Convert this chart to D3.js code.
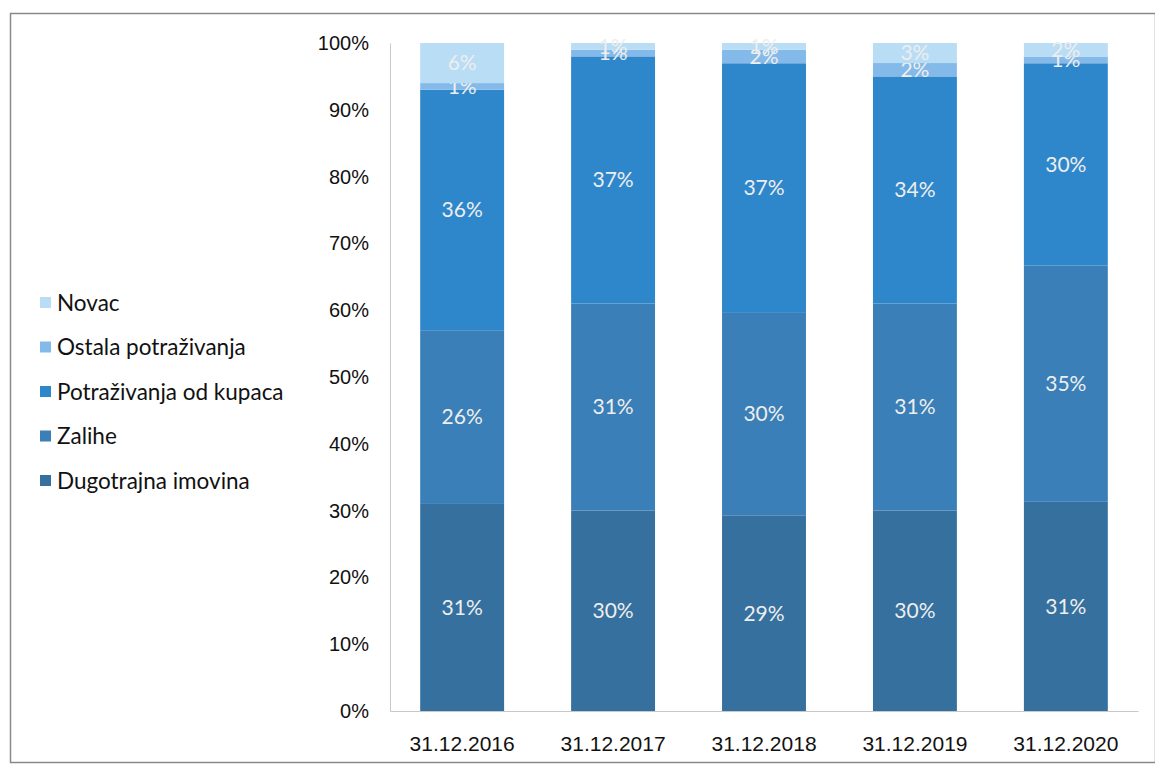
<!DOCTYPE html>
<html>
<head>
<meta charset="utf-8">
<script src="https://cdn.jsdelivr.net/npm/d3@7"></script>
<style>
    body { margin: 0; background: #fff; }
    svg { font-family: Lato, "Noto Sans", sans-serif; }
</style>
</head>
<body>
<div id="chart"></div>
<script>
// data (percent of total assets)
var dates = ["31.12.2016", "31.12.2017", "31.12.2018", "31.12.2019", "31.12.2020"];
var series = ["Dugotrajna imovina", "Zalihe", "Potraživanja od kupaca", "Ostala potraživanja", "Novac"];
var dugotrajna = [31, 30, 29, 30, 31];
var zalihe = [26, 31, 30, 31, 35];
var potrazivanjaKupci = [36, 37, 37, 34, 30];
var ostalaPotrazivanja = [1, 1, 2, 2, 1];
var novac = [6, 1, 1, 3, 2];
var yTicks = [0, 0.1, 0.2, 0.3, 0.4, 0.5, 0.6, 0.7, 0.8, 0.9, 1];

var colors = ["#35709e", "#3a7fb7", "#2f87cb", "#84baea", "#b8ddf5"];

var width = 1155, height = 767;
var margin = { top: 43, right: 17, bottom: 56, left: 390 };

var rows = dates.map(function (d, i) {
    return {
        date: d,
        "Dugotrajna imovina": dugotrajna[i],
        "Zalihe": zalihe[i],
        "Potraživanja od kupaca": potrazivanjaKupci[i],
        "Ostala potraživanja": ostalaPotrazivanja[i],
        "Novac": novac[i]
    };
});

var stacked = d3.stack().keys(series).offset(d3.stackOffsetExpand)(rows);

var svg = d3.select("#chart").append("svg")
    .attr("width", width)
    .attr("height", height);

// outer frame
svg.append("rect")
    .attr("x", 10.5).attr("y", 13.5)
    .attr("width", width - 10).attr("height", 749)
    .attr("fill", "none")
    .attr("stroke", "#8a8a8a")
    .attr("stroke-width", 1.5);

var x = d3.scaleBand()
    .domain(dates)
    .range([margin.left, width - margin.right])
    .paddingInner(0.444)
    .paddingOuter(0.2);

var y = d3.scaleLinear()
    .domain([0, 1])
    .range([height - margin.bottom, margin.top]);

var g = svg.append("g");

// axes
var yAxis = g.append("g")
    .attr("transform", "translate(" + margin.left + ",0)")
    .call(d3.axisLeft(y).tickValues(yTicks).tickFormat(d3.format(".0%")).tickSize(0).tickPadding(21));
yAxis.select(".domain").attr("stroke", "#c8c8c8");
yAxis.selectAll("text").attr("font-size", 20).attr("fill", "#111");

var xAxis = g.append("g")
    .attr("transform", "translate(0," + (height - margin.bottom) + ")")
    .call(d3.axisBottom(x).tickSize(0).tickPadding(25));
xAxis.select(".domain").attr("stroke", "#c8c8c8");
xAxis.selectAll("text").attr("font-size", 21).attr("fill", "#111");

// bars
var layers = g.selectAll(".layer")
    .data(stacked)
    .enter().append("g")
    .attr("class", "layer")
    .attr("fill", function (d, i) { return colors[i]; });

layers.selectAll("rect")
    .data(function (d) { return d; })
    .enter().append("rect")
    .attr("x", function (d) { return x(d.data.date); })
    .attr("y", function (d) { return y(d[1]); })
    .attr("width", x.bandwidth())
    .attr("height", function (d) { return y(d[0]) - y(d[1]); });

// value labels
layers.each(function (layer) {
    var key = layer.key;
    d3.select(this).selectAll("text")
        .data(layer)
        .enter().append("text")
        .attr("x", function (d) { return x(d.data.date) + x.bandwidth() / 2; })
        .attr("y", function (d) { return y((d[0] + d[1]) / 2); })
        .attr("dy", "0.35em")
        .attr("text-anchor", "middle")
        .attr("font-size", 21)
        .attr("fill", "#eeeeee")
        .text(function (d) { return d.data[key] + "%"; });
});

// legend, top entry is the top of the stack
var legend = svg.append("g")
    .attr("transform", "translate(40,303)");

var items = legend.selectAll(".item")
    .data(series.slice().reverse())
    .enter().append("g")
    .attr("class", "item")
    .attr("transform", function (d, i) { return "translate(0," + (i * 44.5) + ")"; });

items.append("rect")
    .attr("x", 0).attr("y", -6)
    .attr("width", 11).attr("height", 11)
    .attr("fill", function (d) { return colors[series.indexOf(d)]; });

items.append("text")
    .attr("x", 17)
    .attr("dy", "0.35em")
    .attr("font-size", 22.5)
    .attr("fill", "#111")
    .text(function (d) { return d; });
</script>
</body>
</html>
